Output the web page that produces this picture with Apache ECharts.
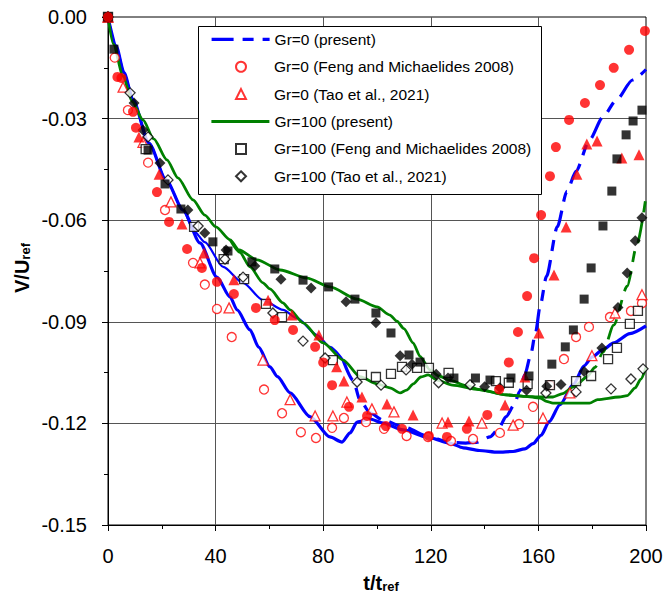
<!DOCTYPE html>
<html>
<head>
<meta charset="utf-8">
<script src="https://cdn.jsdelivr.net/npm/echarts@6/dist/echarts.min.js"></script>
<style>
  html, body { margin: 0; padding: 0; background: #fff; }
  #chart { width: 666px; height: 596px; }
</style>
</head>
<body>
<div id="chart"></div>
<script>
// Settling velocity V/Uref against time t/tref, Gr = 0 and Gr = 100.

// Axis ranges and tick steps
const xRange = [0, 200];
const xStep = 40;
const yRange = [-0.15, 0];
const yStep = 0.03;

// Gr=0, present simulation: deeper curve (solid)
const gr0PresentLower = [
  [0,0],[3,-0.0085],[6,-0.0165],[9.3,-0.0245],[15.2,-0.0372],[21.6,-0.0481],[27.9,-0.057],
  [34.2,-0.0667],[40.5,-0.0768],[45.4,-0.0827],[48,-0.0865],[52.8,-0.0924],[56,-0.0975],
  [60.2,-0.1033],[63,-0.1062],[67.7,-0.111],[75.1,-0.118],[82.5,-0.124],[87,-0.1255],
  [90,-0.1228],[92.6,-0.1196],[97.4,-0.1187],[102.2,-0.1199],[109.7,-0.1219],[119.7,-0.1243],
  [127,-0.1258],[132,-0.1272],[138,-0.128],[145,-0.1285],[150.6,-0.1283],[155,-0.1275],
  [158,-0.126],[161,-0.1235],[164,-0.1195],[168,-0.1145],[173,-0.1085],[177,-0.103],
  [180,-0.1004],[184,-0.0982],[188,-0.0962],[194,-0.0935],[200,-0.0912]
];
// Gr=0, present simulation: second curve, solid start then dashed
const gr0PresentUpperSolid = [
  [0,0],[3,-0.0085],[6,-0.0165],[9.3,-0.0245],[15.2,-0.0372],[21.6,-0.0481],[27.9,-0.057],
  [32,-0.0632],[36,-0.0665],[42.8,-0.0738],[50.2,-0.0785],[57.6,-0.0836],[65.1,-0.0865],
  [70.3,-0.0889],[77.7,-0.0939],[82.5,-0.0974],[87.4,-0.1013]
];
const gr0PresentUpperDash = [
  [87.4,-0.1013],[91.1,-0.1072],[93.7,-0.1131],[97.4,-0.1169],[102.2,-0.119],[109.7,-0.121],
  [119.7,-0.124],[127,-0.1256],[133,-0.1258],[137,-0.1256],[142,-0.124],[145,-0.1218],
  [148,-0.118],[151,-0.1145],[153,-0.1105],[155,-0.1055],[157,-0.1002],[159,-0.093],
  [160.6,-0.0855],[163,-0.0766],[167,-0.062],[170.6,-0.0515],[174,-0.0455],[179,-0.0363],
  [184,-0.0295],[189,-0.0245],[195,-0.0186],[200,-0.0155]
];

// Gr=100, present simulation: upper curve, solid then dashed
const gr100PresentUpperSolid = [
  [0,0],[2,-0.008],[5.6,-0.0175],[9,-0.025],[13,-0.0304],[17,-0.036],[21.9,-0.0422],
  [26,-0.0475],[31.6,-0.054],[36,-0.0585],[40.1,-0.062],[45.4,-0.0658],[48.7,-0.0688],
  [55.4,-0.0717],[64,-0.0747],[74,-0.0771],[82.5,-0.0797],[92.6,-0.0833],[100,-0.0856],
  [104.8,-0.088],[107.4,-0.0898],[110,-0.092],[113.4,-0.0962],[116,-0.1002],[119.7,-0.1042],
  [123,-0.106],[127,-0.1072],[133,-0.1088],[138,-0.11],[148,-0.1116],[155,-0.112],
  [160.6,-0.1122],[165.4,-0.1122],[169,-0.1112],[173,-0.1092],[176,-0.1075]
];
const gr100PresentUpperDash = [
  [176,-0.1075],[178,-0.1063],[181,-0.1035],[184,-0.099],[188,-0.091],[193,-0.0795],
  [196.7,-0.067],[200,-0.053]
];
// Gr=100, present simulation: lower curve
const gr100PresentLower = [
  [45.4,-0.0658],[49,-0.0695],[52.8,-0.0738],[57.6,-0.0785],[60.2,-0.0803],[65,-0.0844],
  [67.7,-0.0865],[72.5,-0.0903],[80,-0.0962],[87.4,-0.1013],[93.7,-0.1062],[100,-0.1083],
  [104.8,-0.1095],[108.6,-0.111],[111,-0.1102],[113.5,-0.1083],[116.3,-0.1063],[119,-0.1057],
  [122.3,-0.1072],[128,-0.1087],[138,-0.11],[148,-0.1116],[155,-0.112],[160.6,-0.1125],
  [163,-0.1135],[165.4,-0.114],[179,-0.114],[182,-0.113],[190,-0.1122],[193,-0.1118],
  [196,-0.1095],[198,-0.107],[200,-0.1035]
];

// Feng and Michaelides 2008, Gr=0
const gr0FengOpen = [
  [0,0],[2.5,-0.012],[7.4,-0.0275],[14.9,-0.043],[21.2,-0.057],[31.6,-0.0726],[36,-0.079],
  [40.5,-0.0862],[46,-0.0945],[58,-0.11],[64.7,-0.117],[71.7,-0.1226],[77.3,-0.1243],
  [83.3,-0.1213],[87.7,-0.1184],[95.9,-0.1196],[102.6,-0.1216],[111,-0.1237],[119,-0.124],
  [127.5,-0.1252],[135.7,-0.1246],[145.7,-0.1228],[152.8,-0.1202],[158,-0.1151],[164.3,-0.1087],
  [169.5,-0.101],[174,-0.0945],[178.8,-0.0915],[186.6,-0.0886],[194.4,-0.0868],[198.5,-0.0845]
];
const gr0FengFilled = [
  [0,0],[3.5,-0.0177],[5,-0.018],[9.3,-0.028],[10.4,-0.0327],[18.2,-0.0517],[22.7,-0.0605],
  [29.4,-0.0685],[34.9,-0.0741],[40.5,-0.0782],[46.8,-0.0818],[55,-0.0859],[62,-0.0895],
  [68.8,-0.0924],[77,-0.0974],[80,-0.102],[83.3,-0.1087],[89.6,-0.1151],[96.3,-0.1178],
  [103.3,-0.1208],[109.3,-0.1216],[119.3,-0.1237],[126,-0.124],[133.4,-0.1216],[141,-0.1175],
  [145.4,-0.11],[149,-0.102],[152.4,-0.093],[155.8,-0.0824],[158.4,-0.0712],[161,-0.0585],
  [164.3,-0.047],[166.5,-0.0384],[171.4,-0.0304],[177.3,-0.0254],[182.9,-0.0201],[188,-0.015],
  [193.7,-0.0097],[199.6,-0.0041]
];

// Tao et al., 2021, Gr=0
const gr0TaoOpen = [
  [0,0],[5.6,-0.0207],[13,-0.037],[23.4,-0.0546],[34.2,-0.0726],[45,-0.0859],[57.6,-0.1013],
  [67.7,-0.113],[77,-0.1178],[83.6,-0.1178],[88.8,-0.1137],[98.1,-0.1157],[106.3,-0.1166],
  [124.2,-0.1199],[139,-0.1199],[150.6,-0.1205],[161.7,-0.1184],[171.7,-0.111],[179.9,-0.1],
  [188.5,-0.0874],[198.5,-0.082]
];
const gr0TaoFilled = [
  [0,0],[11.5,-0.0354],[19,-0.0464],[27.5,-0.0611],[35.7,-0.0697],[46.8,-0.0776],[59.5,-0.0836],
  [68.4,-0.088],[78.4,-0.0939],[85,-0.1033],[87.7,-0.1075],[94.4,-0.1122],[103.7,-0.1143],
  [113.4,-0.1175],[126.4,-0.1196],[134.2,-0.1193],[147.6,-0.1146],[155,-0.1063],[160.2,-0.0933],
  [165.8,-0.0762],[170.3,-0.062],[174.3,-0.0464],[178,-0.0375],[181.8,-0.0366],[191,-0.0416],
  [197.4,-0.0407]
];

// Feng and Michaelides 2008, Gr=100
const gr100FengOpen = [
  [0,0],[14,-0.039],[32,-0.062],[43,-0.0715],[50.6,-0.0774],[58.7,-0.0847],[64.7,-0.0886],
  [83.6,-0.1013],[94.4,-0.1057],[99.6,-0.1063],[105.2,-0.1054],[109.3,-0.1033],[114.9,-0.1036],
  [119.3,-0.1036],[126.6,-0.1051],[144.2,-0.1075],[149,-0.108],[156,-0.1084],[164.3,-0.1087],
  [174,-0.1075],[179.6,-0.106],[185.9,-0.101],[189.2,-0.0977],[194,-0.0906],[197,-0.0868]
];
const gr100FengFilled = [
  [0,0],[2.2,-0.0095],[14.9,-0.0393],[21.2,-0.0493],[27.1,-0.0567],[39,-0.0664],[44.6,-0.0691],
  [53.5,-0.0723],[62,-0.0744],[72.5,-0.0777],[82,-0.0797],[91.8,-0.0833],[99.6,-0.0874],
  [105.2,-0.0933],[111.9,-0.0998],[116,-0.1019],[128.6,-0.1066],[136.6,-0.1066],[142,-0.1072],
  [149.8,-0.1066],[156.5,-0.106],[165,-0.1025],[170,-0.0974],[173,-0.0924],[177,-0.0833],
  [179.6,-0.0741],[184,-0.0617],[187.3,-0.0514],[189.2,-0.0419],[192.6,-0.0348],[195.2,-0.0307],
  [198.5,-0.0275]
];

// Tao et al., 2021, Gr=100
const gr100TaoOpen = [
  [0,0],[8.2,-0.0224],[14.9,-0.0354],[22.3,-0.0481],[33.5,-0.0617],[43.5,-0.0715],[50.2,-0.0768],
  [61.3,-0.0874],[72.5,-0.0957],[80.7,-0.1007],[92.6,-0.1078],[101.5,-0.1087],[110.8,-0.1042],
  [122.9,-0.108],[134.6,-0.1086],[162.8,-0.111],[174,-0.1107],[187,-0.1098],[194.4,-0.1069],
  [198.9,-0.1039]
];
const gr100TaoFilled = [
  [0,0],[9.7,-0.0254],[13,-0.0334],[19.3,-0.0431],[29.7,-0.057],[36,-0.0638],[43.9,-0.0688],
  [54.6,-0.0735],[64.3,-0.0774],[75.5,-0.08],[88.5,-0.0841],[99.6,-0.0903],[108.6,-0.1],
  [113,-0.1025],[122,-0.1055],[126.4,-0.1066],[140,-0.1092],[145.7,-0.1095],[155.6,-0.1102],
  [163.1,-0.109],[168.4,-0.1085],[177,-0.1047],[183.6,-0.0977],[189.6,-0.0858],[193,-0.0756],
  [196,-0.0661],[198.5,-0.0593]
];

// Legend entries, in display order; true marks a line sample, false a marker sample
const legendNames = [
  'Gr=0 (present)',
  'Gr=0 (Feng and Michaelides 2008)',
  'Gr=0 (Tao et al., 2021)',
  'Gr=100 (present)',
  'Gr=100 (Feng and Michaelides 2008)',
  'Gr=100 (Tao et al., 2021)'
];
const legendIsLine = [true, false, false, true, false, false];

const FONT = 'Liberation Sans, Arial, sans-serif';
const RED = '#ff0000', BLUE = '#0000ff', GREEN = '#008000', BLACK = '#000000';
const DASH = [22, 9, 11, 9];

function lineSeries(name, data, color, width, dashed) {
  return {
    name: name, type: 'line', data: data, symbol: 'none', showSymbol: false,
    smooth: 0.25, smoothMonotone: 'x',
    lineStyle: { color: color, width: width, type: dashed ? DASH : 'solid' },
    itemStyle: { color: color },
    z: 2, silent: true
  };
}
function markerSeries(name, data, symbol, size, color, open) {
  return {
    name: name, type: 'scatter', data: data, symbol: symbol, symbolSize: size,
    symbolKeepAspect: true,
    itemStyle: open
      ? { color: '#ffffff', borderColor: color, borderWidth: 1.3 }
      : { color: color, borderColor: color, borderWidth: 0 },
    z: open ? 3 : 4, silent: true
  };
}

// Legend box and rows
const LEG_BOX = { x: 198, y: 26, w: 343, h: 168 };
const LEG_ROW0 = 39.3, LEG_ROW_STEP = 27.4;
const legends = legendNames.map(function (name, i) {
  const isLine = legendIsLine[i];
  const item = isLine
    ? { name: name, itemStyle: { color: 'rgba(0,0,0,0)', borderColor: 'rgba(0,0,0,0)', borderWidth: 0 } }
    : { name: name };
  return {
    data: [item], orient: 'vertical',
    left: isLine ? 210 : 235,
    top: LEG_ROW0 + i * LEG_ROW_STEP - 8,
    padding: 0,
    itemWidth: isLine ? 58 : 10,
    itemHeight: isLine ? 4 : 10,
    symbolKeepAspect: true,
    textStyle: {
      fontFamily: FONT, fontSize: 15.5, color: BLACK, lineHeight: 16,
      padding: isLine ? 0 : [0, 0, 0, 23]
    },
    lineStyle: { width: 'inherit' },
    selectedMode: false, z: 21
  };
});

const axisCommon = {
  type: 'value',
  axisLine: { show: true, onZero: false, lineStyle: { color: BLACK, width: 1 } },
  axisTick: { show: true, inside: false, length: 6, lineStyle: { color: BLACK, width: 1 } },
  minorTick: { show: true, splitNumber: 2, length: 4, lineStyle: { color: BLACK, width: 1 } },
  splitLine: { show: true, showMinLine: false, showMaxLine: false, lineStyle: { color: '#555555', width: 1 } },
  minorSplitLine: { show: false }
};

const titleRich = {
  m: { fontFamily: FONT, fontSize: 20, fontWeight: 'bold', fill: BLACK, lineHeight: 20 },
  s: { fontFamily: FONT, fontSize: 13, fontWeight: 'bold', fill: BLACK, lineHeight: 13, verticalAlign: 'bottom' }
};

const chart = echarts.init(document.getElementById('chart'), null, { renderer: 'svg' });
chart.setOption({
  animation: false,
  backgroundColor: '#ffffff',
  grid: {
    left: 108, top: 17, width: 538, height: 508,
    show: true, borderColor: BLACK, borderWidth: 1, backgroundColor: 'transparent',
    outerBoundsMode: 'none'
  },
  xAxis: Object.assign({}, axisCommon, {
    min: xRange[0], max: xRange[1], interval: xStep,
    axisLabel: { color: BLACK, fontFamily: FONT, fontSize: 20, margin: 21 }
  }),
  yAxis: Object.assign({}, axisCommon, {
    min: yRange[0], max: yRange[1], interval: yStep,
    axisLabel: {
      color: BLACK, fontFamily: FONT, fontSize: 20, margin: 21,
      formatter: function (v) { return Math.abs(v) < 1e-9 ? '0.00' : v.toFixed(2); }
    }
  }),
  legend: legends,
  graphic: [
    {
      type: 'rect', z: 20, silent: true,
      shape: { x: LEG_BOX.x + 0.5, y: LEG_BOX.y + 0.5, width: LEG_BOX.w, height: LEG_BOX.h },
      style: { fill: '#ffffff', stroke: BLACK, lineWidth: 1 }
    },
    {
      type: 'text', x: 22, y: 268, rotation: Math.PI / 2, z: 10,
      style: { text: '{m|V/U}{s|ref}', align: 'center', verticalAlign: 'middle', rich: titleRich }
    },
    {
      type: 'text', x: 381, y: 583, z: 10,
      style: { text: '{m|t/t}{s|ref}', align: 'center', verticalAlign: 'middle', rich: titleRich }
    }
  ],
  series: [
    lineSeries('Gr=0 lower', gr0PresentLower, BLUE, 3.2, false),
    lineSeries('Gr=0 upper', gr0PresentUpperSolid, BLUE, 2.2, false),
    lineSeries('Gr=0 (present)', gr0PresentUpperDash, BLUE, 3.2, true),
    lineSeries('Gr=100 (present)', gr100PresentUpperSolid, GREEN, 2.8, false),
    lineSeries('Gr=100 upper', gr100PresentUpperDash, GREEN, 2.8, true),
    lineSeries('Gr=100 lower', gr100PresentLower, GREEN, 2.8, false),
    markerSeries('Gr=0 (Feng and Michaelides 2008)', gr0FengOpen, 'circle', 9, RED, true),
    markerSeries('Gr=0 (Tao et al., 2021)', gr0TaoOpen, 'triangle', 10, RED, true),
    markerSeries('Gr=100 (Feng and Michaelides 2008)', gr100FengOpen, 'rect', 9, BLACK, true),
    markerSeries('Gr=100 (Tao et al., 2021)', gr100TaoOpen, 'diamond', 10, BLACK, true),
    markerSeries('Gr=0 Tao filled', gr0TaoFilled, 'triangle', 11, RED, false),
    markerSeries('Gr=100 Feng filled', gr100FengFilled, 'rect', 9, BLACK, false),
    markerSeries('Gr=100 Tao filled', gr100TaoFilled, 'diamond', 11, BLACK, false),
    markerSeries('Gr=0 Feng filled', gr0FengFilled, 'circle', 10, RED, false)
  ]
});
</script>
</body>
</html>
